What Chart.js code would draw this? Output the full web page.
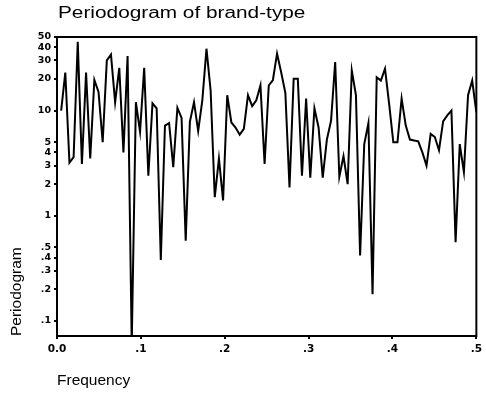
<!DOCTYPE html>
<html>
<head>
<meta charset="utf-8">
<title>Periodogram of brand-type</title>
<script src="https://cdn.jsdelivr.net/npm/chart.js@4.4.1/dist/chart.umd.min.js"></script>
<style>
  html, body { margin: 0; padding: 0; background: #fff; }
  canvas { display: block; }
</style>
</head>
<body>
<canvas id="pgram" width="486" height="397"></canvas>
<script>
'use strict';

// ─────────────────────────────────────────────
// 1. DATA
// ─────────────────────────────────────────────
// series length; periodogram is evaluated at the Fourier frequencies j / N_OBS
const N_OBS = 202;

const periodogram = [
  10, 23, 3.2, 3.6, 45, 3.1, 23, 3.5, 19.5, 15,
  5, 30, 34, 12, 25.5, 4, 33, 0.06, 12, 6.3,
  25.5, 2.4, 11.7, 10.5, 0.38, 7.2, 7.6, 2.9, 10.6, 8.5,
  0.58, 7.8, 12, 6.4, 12.5, 38.7, 15.5, 1.5, 3.5, 1.4,
  14, 7.7, 6.9, 5.9, 6.7, 14, 11, 12.5, 17.3, 3.1,
  17.3, 19.5, 34.7, 23, 14.7, 1.86, 20, 20, 2.4, 13,
  2.3, 10.5, 6.9, 2.3, 5.3, 8, 28.9, 2.35, 3.7, 2.0,
  24, 14, 0.42, 4.8, 7.6, 0.18, 20.7, 19.3, 25, 11.5,
  5, 5, 13, 7.2, 5.3, 5.2, 5.1, 4.0, 3.0, 6,
  5.6, 4.2, 7.9, 9, 10, 0.56, 4.8, 2.6, 14, 19.3,
  9.6,
];
const frequency = periodogram.map((_, i) => (i + 1) / N_OBS);

const xTickValues = [0, 0.1, 0.2, 0.3, 0.4, 0.5];
const xTickLabels = ['0.0', '.1', '.2', '.3', '.4', '.5'];
const yTickValues = [0.1, 0.2, 0.3, 0.4, 0.5, 1, 2, 3, 4, 5, 10, 20, 30, 40, 50];
const yTickLabels = ['.1', '.2', '.3', '.4', '.5', '1', '2', '3', '4', '5', '10', '20', '30', '40', '50'];

const TITLE = 'Periodogram of brand-type';

// ─────────────────────────────────────────────
// 2. FRAME + WIDE TITLE
// ─────────────────────────────────────────────
const frameAndTitle = {
  id: 'frameAndTitle',
  afterDatasetsDraw(chart) {
    const { ctx, chartArea: a } = chart;
    ctx.save();
    ctx.strokeStyle = '#000';
    ctx.lineWidth = 2;
    ctx.strokeRect(a.left, a.top, a.right - a.left, a.bottom - a.top);
    ctx.restore();
  },
  afterDraw(chart) {
    const { ctx, chartArea: a } = chart;
    ctx.save();
    ctx.translate(a.left + 1, 17.5);
    ctx.scale(1.3, 1);            // the heading is set in a stretched face
    ctx.font = '16px "Liberation Sans", Arial, sans-serif';
    ctx.fillStyle = '#000';
    ctx.textBaseline = 'alphabetic';
    ctx.fillText(TITLE, 0, 0);
    ctx.restore();
  },
};

// ─────────────────────────────────────────────
// 3. CHART
// ─────────────────────────────────────────────
const tickFont = (size) => ({ family: 'DejaVu Sans', size, weight: 'bold' });

new Chart(document.getElementById('pgram'), {
  type: 'line',
  data: {
    datasets: [{
      data: frequency.map((f, i) => ({ x: f, y: periodogram[i] })),
      borderColor: '#000',
      borderWidth: 2,
      pointRadius: 0,
      tension: 0,
      fill: false,
    }],
  },
  options: {
    responsive: false,
    animation: false,
    devicePixelRatio: 1,
    layout: { padding: { top: 37, right: 4, bottom: 0, left: 0 } },
    plugins: {
      legend: { display: false },
      tooltip: { enabled: false },
      title: { display: false },
    },
    scales: {
      x: {
        type: 'linear',
        min: 0,
        max: 0.5,
        afterBuildTicks: (s) => { s.ticks = xTickValues.map((v) => ({ value: v })); },
        afterFit: (s) => { s.height = 61; },
        grid: { drawOnChartArea: false, drawTicks: true, tickLength: 3, color: '#000', lineWidth: 2 },
        border: { display: false },
        ticks: {
          autoSkip: false,
          maxRotation: 0,
          padding: 4,
          color: '#000',
          font: tickFont(10.5),
          callback: (v, i) => xTickLabels[i],
        },
        title: {
          display: true,
          text: 'Frequency',
          align: 'start',
          color: '#000',
          font: { family: 'Liberation Sans', size: 15.5 },
          padding: { top: 0, bottom: 7 },
        },
      },
      y: {
        type: 'logarithmic',
        min: 0.072,
        max: 50,
        afterBuildTicks: (s) => { s.ticks = yTickValues.map((v) => ({ value: v })); },
        afterFit: (s) => { s.width = 57; },
        grid: { drawOnChartArea: false, drawTicks: true, tickLength: 3, color: '#000', lineWidth: 2 },
        border: { display: false },
        ticks: {
          autoSkip: false,
          padding: 3,
          color: '#000',
          font: tickFont(9.5),
          callback: (v, i) => yTickLabels[i],
        },
        title: {
          display: true,
          text: 'Periodogram',
          align: 'start',
          color: '#000',
          font: { family: 'Liberation Sans', size: 15.5 },
          padding: { top: 7, bottom: 0 },
        },
      },
    },
  },
  plugins: [frameAndTitle],
});
</script>
</body>
</html>
